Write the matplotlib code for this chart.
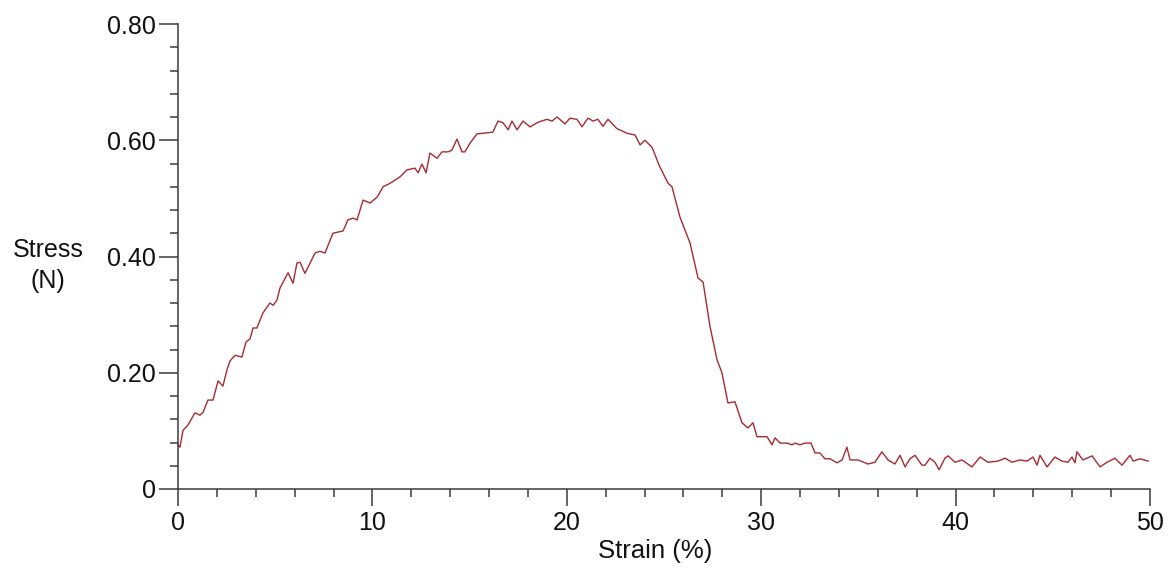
import matplotlib
matplotlib.use("Agg")
import matplotlib.pyplot as plt
from matplotlib.ticker import MultipleLocator

# strain (%) and stress (N)
strain = [0.00, 0.10, 0.26, 0.51, 0.87, 1.13, 1.29, 1.54, 1.80, 2.06, 2.31, 2.52, 2.67, 2.93,
          3.29, 3.50, 3.70, 3.86, 4.06, 4.37, 4.73, 4.89, 5.09, 5.25, 5.66, 5.92, 6.12, 6.28,
          6.53, 7.05, 7.30, 7.56, 7.97, 8.49, 8.74, 9.00, 9.21, 9.52, 9.88, 10.24, 10.55, 10.91,
          11.42, 11.78, 12.19, 12.35, 12.55, 12.76, 12.96, 13.32, 13.58, 13.89, 14.09, 14.35,
          14.61, 14.76, 15.02, 15.38, 15.69, 16.20, 16.46, 16.72, 16.98, 17.18, 17.44, 17.75,
          18.11, 18.52, 18.98, 19.24, 19.50, 19.91, 20.16, 20.52, 20.78, 21.09, 21.35, 21.60,
          21.86, 22.12, 22.58, 23.10, 23.51, 23.77, 24.02, 24.38, 24.79, 25.21, 25.41, 25.82,
          26.34, 26.75, 27.01, 27.37, 27.73, 27.98, 28.29, 28.65, 29.01, 29.32, 29.58, 29.78,
          30.30, 30.56, 30.71, 30.97, 31.33, 31.58, 31.74, 32.00, 32.25, 32.56, 32.77, 33.02,
          33.28, 33.54, 33.90, 34.16, 34.41, 34.57, 34.98, 35.49, 35.85, 36.21, 36.52, 36.88,
          37.14, 37.40, 37.65, 37.91, 38.27, 38.43, 38.68, 38.94, 39.15, 39.45, 39.61, 39.97,
          40.33, 40.84, 41.26, 41.67, 42.18, 42.54, 42.90, 43.31, 43.67, 43.98, 44.19, 44.34,
          44.70, 45.11, 45.47, 45.78, 45.99, 46.14, 46.24, 46.55, 47.02, 47.43, 47.79, 48.20,
          48.56, 48.97, 49.13, 49.49, 49.90]
stress = [0.076, 0.072, 0.101, 0.110, 0.131, 0.127, 0.132, 0.153, 0.153, 0.186, 0.177, 0.205,
          0.220, 0.230, 0.227, 0.253, 0.258, 0.277, 0.277, 0.303, 0.320, 0.316, 0.325, 0.346,
          0.372, 0.354, 0.389, 0.390, 0.371, 0.406, 0.409, 0.406, 0.440, 0.444, 0.463, 0.466,
          0.463, 0.497, 0.492, 0.502, 0.520, 0.526, 0.537, 0.549, 0.552, 0.544, 0.559, 0.544,
          0.578, 0.569, 0.580, 0.580, 0.583, 0.602, 0.580, 0.580, 0.595, 0.611, 0.612, 0.614,
          0.633, 0.630, 0.618, 0.633, 0.618, 0.633, 0.623, 0.631, 0.636, 0.633, 0.640, 0.628,
          0.638, 0.636, 0.623, 0.638, 0.633, 0.636, 0.624, 0.636, 0.620, 0.612, 0.609, 0.592,
          0.600, 0.588, 0.554, 0.526, 0.520, 0.468, 0.423, 0.363, 0.356, 0.279, 0.222, 0.200,
          0.148, 0.150, 0.114, 0.105, 0.114, 0.090, 0.090, 0.076, 0.088, 0.079, 0.079, 0.076,
          0.079, 0.076, 0.079, 0.079, 0.062, 0.062, 0.052, 0.052, 0.045, 0.050, 0.072, 0.050,
          0.050, 0.043, 0.046, 0.064, 0.050, 0.043, 0.058, 0.038, 0.052, 0.058, 0.041, 0.041,
          0.053, 0.046, 0.033, 0.053, 0.057, 0.046, 0.050, 0.038, 0.055, 0.046, 0.048, 0.053,
          0.046, 0.050, 0.048, 0.055, 0.041, 0.058, 0.038, 0.055, 0.048, 0.046, 0.055, 0.045,
          0.064, 0.050, 0.057, 0.038, 0.046, 0.053, 0.041, 0.058, 0.048, 0.052, 0.048]

x_ticks = [0, 10, 20, 30, 40, 50]
y_ticks = [0, 0.2, 0.4, 0.6, 0.8]
y_labels = ["0", "0.20", "0.40", "0.60", "0.80"]

plt.rcParams["font.family"] = ["Liberation Sans", "DejaVu Sans"]

fig = plt.figure(figsize=(11.73, 5.70), dpi=100)
ax = fig.add_axes([178 / 1173, 81 / 570, 972 / 1173, 465 / 570])

ax.plot(strain, stress, color="#a52a33", lw=1.0, clip_on=False)

ax.set_xlim(0, 50)
ax.set_ylim(0, 0.8)
ax.set_xticks(x_ticks)
ax.set_yticks(y_ticks)
ax.set_yticklabels(y_labels)
ax.xaxis.set_minor_locator(MultipleLocator(2))
ax.yaxis.set_minor_locator(MultipleLocator(0.04))

axis_col = "#3a3a3a"
for side in ["top", "right"]:
    ax.spines[side].set_visible(False)
for side in ["left", "bottom"]:
    ax.spines[side].set_color(axis_col)
    ax.spines[side].set_linewidth(1.1)

# tick lengths are in points (1 px = 0.72 pt here)
ax.tick_params(axis="both", which="major", direction="out", colors=axis_col,
               width=1.1, labelsize=18, labelcolor="#111111")
ax.tick_params(axis="y", which="major", length=13.7, pad=2)
ax.tick_params(axis="x", which="major", length=12.2, pad=4)
ax.tick_params(axis="both", which="minor", direction="out", colors=axis_col,
               width=1.1, length=5.8)

ax.set_xlabel("Strain (%)", fontsize=18.5, color="#111111")
ax.xaxis.set_label_coords(0.491, -0.108)
ax.text(-0.134, 0.48, "Stress\n(N)", transform=ax.transAxes, fontsize=18,
        ha="center", va="center", linespacing=1.35, color="#111111")

fig.savefig("out.png", dpi=100)
